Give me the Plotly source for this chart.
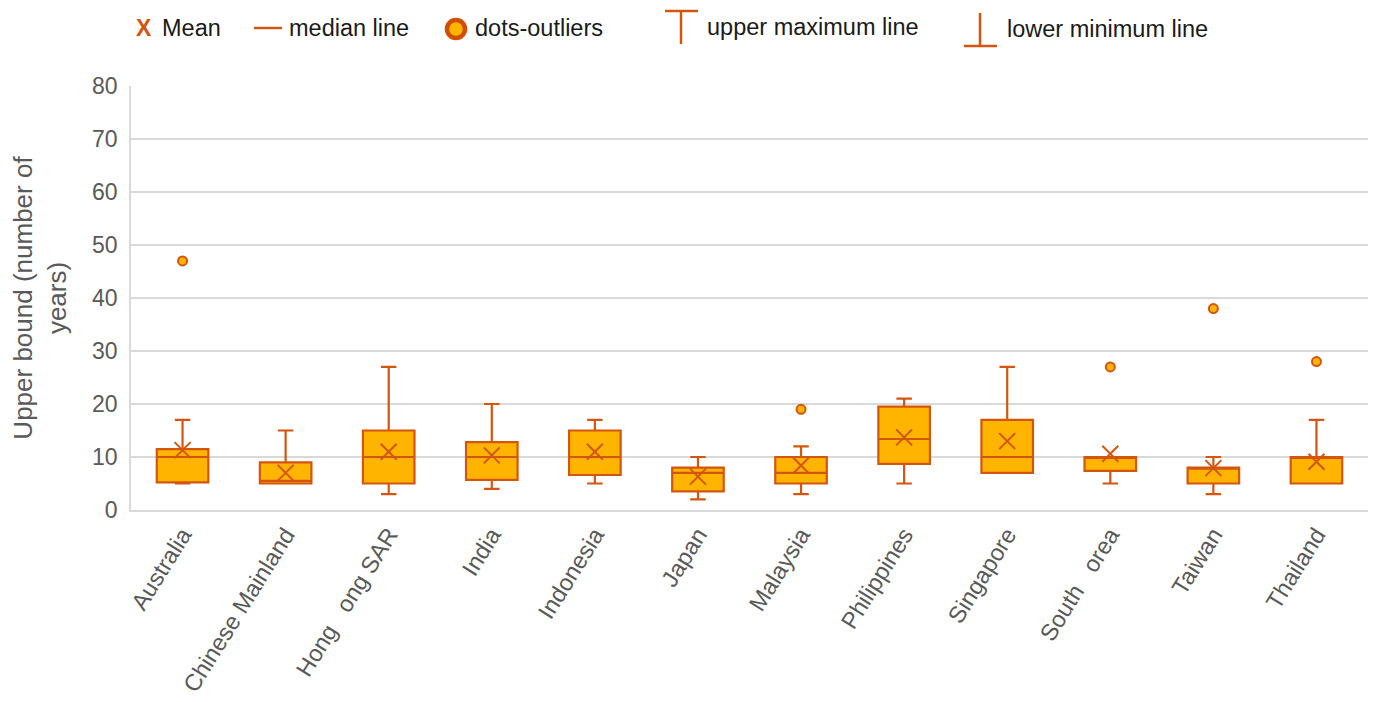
import plotly.graph_objects as go

categories = ["Australia", "Chinese Mainland", "Hong   ong SAR", "India", "Indonesia", "Japan",
              "Malaysia", "Philippines", "Singapore", "South   orea", "Taiwan", "Thailand"]
q1 = [5.2, 5.0, 5.0, 5.7, 6.6, 3.5, 5.0, 8.7, 7.0, 7.4, 5.0, 5.0]
median = [10, 5.5, 10, 10, 10, 7, 7, 13.4, 10, 10, 8, 10]
q3 = [11.5, 9.0, 15, 12.8, 15, 8, 10, 19.5, 17, 10, 8, 10]
lower = [5, 5, 3, 4, 5, 2, 3, 5, 7, 5, 3, 5]
upper = [17, 15, 27, 20, 17, 10, 12, 21, 27, 10, 10, 17]
mean = [11.3, 7.0, 11.0, 10.3, 11.0, 6.3, 8.4, 13.7, 13.0, 10.6, 7.9, 9.1]
outlier_cat = ["Australia", "Malaysia", "South   orea", "Taiwan", "Thailand"]
outlier_val = [47, 19, 27, 38, 28]

FILL = "#FFB400"
LINE = "#D4550F"
GRAY = "#595959"
FONT = "Liberation Sans, Arial, sans-serif"

fig = go.Figure()
fig.add_trace(go.Box(
    x=categories, q1=q1, median=median, q3=q3, lowerfence=lower, upperfence=upper,
    boxpoints=False, fillcolor=FILL, line=dict(color=LINE, width=2.2),
    width=0.5, whiskerwidth=0.3, showlegend=False, hoverinfo="skip"))
fig.add_trace(go.Scatter(
    x=categories, y=mean, mode="markers", showlegend=False,
    marker=dict(symbol="x-thin", size=16, line=dict(color=LINE, width=2), color=LINE)))
fig.add_trace(go.Scatter(
    x=outlier_cat, y=outlier_val, mode="markers", showlegend=False,
    marker=dict(symbol="circle", size=9, color=FILL, line=dict(color=LINE, width=2))))

# plot area in window pixels; page body has an 8px offset
OFF = 8
W, H = 1381 - OFF, 702 - OFF
L, R, T, B = 131, 1368, 86, 510
def px(x):
    return (x - L) / (R - L)
def py(y):
    return (B - y) / (B - T)

ann = []
shapes = []
def text(x, y, s, color="#1a1a1a", bold=False, size=23.5):
    ann.append(dict(x=px(x), y=py(y), xref="paper", yref="paper", text=("<b>%s</b>" % s) if bold else s,
                    showarrow=False, xanchor="left", yanchor="middle",
                    font=dict(size=size, color=color, family=FONT)))
def seg(x0, y0, x1, y1):
    shapes.append(dict(type="line", xref="paper", yref="paper", x0=px(x0), y0=py(y0), x1=px(x1), y1=py(y1),
                       line=dict(color=LINE, width=2.5)))

text(134, 28, "X", color=LINE, bold=True, size=23)
text(160, 28, "Mean")
seg(254, 28, 282, 28)
text(287, 28, "median line")
shapes.append(dict(type="circle", xref="paper", yref="paper", x0=px(447), y0=py(20), x1=px(465), y1=py(38),
                   fillcolor="#FFB400", line=dict(color="#D24F00", width=4.5)))
text(473, 28, "dots-outliers")
seg(681, 11, 681, 44)
seg(665, 11, 698, 11)
text(705, 27, "upper maximum line")
seg(980, 13, 980, 46)
seg(964, 46, 997, 46)
text(1005, 29, "lower minimum line")

fig.update_layout(
    width=W, height=H,
    margin=dict(l=L - OFF, r=W - (R - OFF), t=T - OFF, b=H - (B - OFF), autoexpand=False),
    plot_bgcolor="white", paper_bgcolor="white",
    font=dict(family=FONT, color=GRAY, size=23),
    annotations=ann, shapes=shapes, showlegend=False,
    xaxis=dict(type="category", categoryorder="array", categoryarray=categories,
               range=[-0.5, len(categories) - 0.5],
               tickangle=-58, tickfont=dict(size=23.5, color=GRAY),
               showline=True, linecolor="#D9D9D9", linewidth=1.5, mirror=False,
               showgrid=False, ticks="", automargin=False),
    yaxis=dict(range=[0, 80], dtick=10, showgrid=True, gridcolor="#D9D9D9", gridwidth=1.5,
               zeroline=False, showline=True, linecolor="#D9D9D9", linewidth=1.5,
               tickfont=dict(size=23, color=GRAY), ticks="", ticklabelstandoff=7, automargin=False,
               title=dict(text="Upper bound (number of<br>years)", font=dict(size=26, color=GRAY), standoff=19)),
)

fig.write_html("out.html")
